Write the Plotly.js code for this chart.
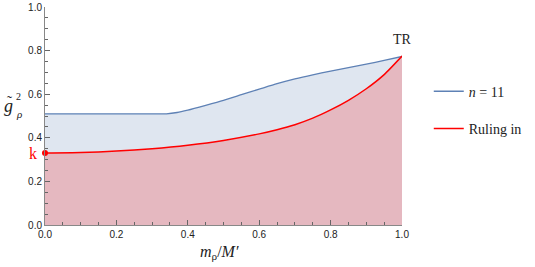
<!DOCTYPE html>
<html>
<head>
<meta charset="utf-8">
<script src="https://cdn.plot.ly/plotly-3.0.1.min.js"></script>
<style>html,body{margin:0;padding:0;background:#fff;}#chart{width:535px;height:267px;}</style>
</head>
<body>
<div id="chart"></div>
<script>
// n = 11 curve
const blueX = [0, 0.1, 0.2, 0.3, 0.34, 0.37, 0.4, 0.45, 0.5, 0.55, 0.6, 0.65, 0.7, 0.75, 0.8, 0.85, 0.9, 0.95, 1.0];
const blueY = [0.51, 0.51, 0.51, 0.51, 0.51, 0.516, 0.527, 0.549, 0.572, 0.598, 0.623, 0.648, 0.670, 0.689, 0.706, 0.722, 0.738, 0.755, 0.773];
// Ruling in curve
const redX = [0, 0.1, 0.2, 0.3, 0.4, 0.5, 0.6, 0.65, 0.7, 0.75, 0.8, 0.85, 0.9, 0.95, 1.0];
const redY = [0.330, 0.332, 0.339, 0.350, 0.366, 0.388, 0.418, 0.437, 0.460, 0.490, 0.528, 0.572, 0.625, 0.690, 0.775];
// special point k
const kX = [0];
const kY = [0.330];
const seriesNames = ['<i>n</i> = 11', 'Ruling in'];
const xTicks = [0, 0.2, 0.4, 0.6, 0.8, 1.0];
const xTickText = ['0.0', '0.2', '0.4', '0.6', '0.8', '1.0'];
const yTicks = [0, 0.2, 0.4, 0.6, 0.8, 1.0];
const yTickText = ['0.0', '0.2', '0.4', '0.6', '0.8', '1.0'];

const blueLine = '#5E81B5';
const redLine = '#FF0000';
const serif = 'Liberation Serif, DejaVu Serif, serif';

const traces = [
  {x: blueX, y: blueY, mode: 'lines', fill: 'tozeroy', fillcolor: 'rgba(94,129,181,0.2)', line: {width: 0, shape: 'spline', smoothing: 0.6}, showlegend: false, hoverinfo: 'skip'},
  {x: redX, y: redY, mode: 'lines', fill: 'tozeroy', fillcolor: 'rgba(255,0,0,0.2)', line: {width: 0, shape: 'spline', smoothing: 0.6}, showlegend: false, hoverinfo: 'skip'},
  {x: blueX, y: blueY, mode: 'lines', name: seriesNames[0], line: {color: blueLine, width: 1.3, shape: 'spline', smoothing: 0.6}, legendgroup: 'a'},
  {x: redX, y: redY, mode: 'lines', name: seriesNames[1], line: {color: redLine, width: 1.5, shape: 'spline', smoothing: 0.6}, legendgroup: 'b'},
  {x: kX, y: kY, mode: 'markers', marker: {color: redLine, size: 6}, showlegend: false, cliponaxis: false}
];

const layout = {
  width: 535, height: 267,
  margin: {l: 45, r: 133, t: 7, b: 42},
  paper_bgcolor: '#fff', plot_bgcolor: '#fff',
  font: {family: 'Liberation Sans, Arial, sans-serif', size: 10, color: '#222'},
  xaxis: {
    range: [0, 1], tickvals: xTicks, ticktext: xTickText,
    showgrid: false, zeroline: false, showline: true, linecolor: '#888', linewidth: 1,
    ticks: 'inside', ticklen: 5, tickcolor: '#666', tickwidth: 1,
    minor: {dtick: 0.05, ticks: 'inside', ticklen: 3, tickcolor: '#666', showgrid: false},
    tickfont: {size: 10, color: '#222'}, fixedrange: true
  },
  yaxis: {
    range: [0, 1], tickvals: yTicks, ticktext: yTickText,
    showgrid: false, zeroline: false, showline: true, linecolor: '#888', linewidth: 1,
    ticks: 'inside', ticklen: 5, tickcolor: '#666', tickwidth: 1,
    minor: {dtick: 0.05, ticks: 'inside', ticklen: 3, tickcolor: '#666', showgrid: false},
    tickfont: {size: 10, color: '#222'}, fixedrange: true
  },
  showlegend: true,
  legend: {
    x: 1.075, y: 0.685, xanchor: 'left', yanchor: 'top',
    font: {family: serif, size: 14, color: '#222'},
    tracegroupgap: 16, bgcolor: 'rgba(0,0,0,0)'
  },
  annotations: [
    {x: 0, y: 0.330, xref: 'x', yref: 'y', text: 'k', showarrow: false, xanchor: 'right', xshift: -6, font: {family: serif, size: 16, color: redLine}},
    {x: 1, y: 0.775, xref: 'x', yref: 'y', text: 'TR', showarrow: false, yanchor: 'bottom', yshift: 7, font: {family: serif, size: 14, color: '#222'}},
    {x: 0.49, y: -0.075, xref: 'paper', yref: 'paper', text: '<i>m</i><sub>ρ</sub>/<i>M′</i>', showarrow: false, yanchor: 'top', font: {family: serif, size: 16, color: '#222'}},
    {x: -0.085, y: 0.545, xref: 'paper', yref: 'paper', text: '<i>g</i>', showarrow: false, xanchor: 'right', font: {family: serif, size: 18, color: '#222'}},
    {x: -0.1, y: 0.585, xref: 'paper', yref: 'paper', text: '˜', showarrow: false, xanchor: 'center', yshift: -4, font: {family: serif, size: 15, color: '#222'}},
    {x: -0.087, y: 0.59, xref: 'paper', yref: 'paper', text: '2', showarrow: false, xanchor: 'left', font: {family: serif, size: 10, color: '#222'}},
    {x: -0.087, y: 0.51, xref: 'paper', yref: 'paper', text: '<i>ρ</i>', showarrow: false, xanchor: 'left', font: {family: serif, size: 11, color: '#222'}}
  ]
};

Plotly.newPlot('chart', traces, layout, {staticPlot: true, displayModeBar: false});
</script>
</body>
</html>
